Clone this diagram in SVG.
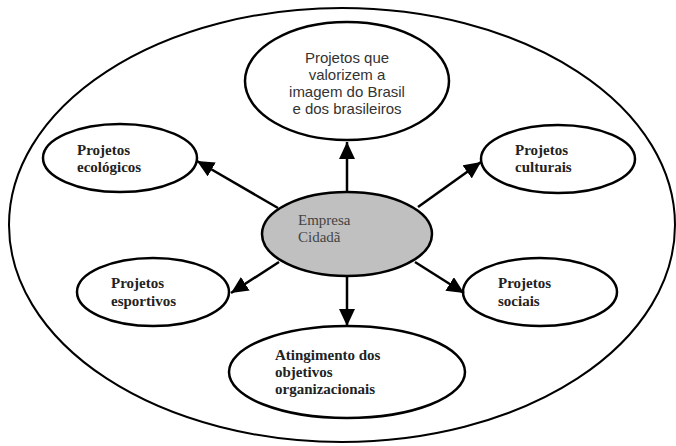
<svg xmlns="http://www.w3.org/2000/svg" width="676" height="446" viewBox="0 0 676 446">
  <style>
    .ell { fill: #ffffff; stroke: #000000; stroke-width: 2.5; }
    .core { fill: #c0c0c0; stroke: #000000; stroke-width: 2.5; }
    .frame { fill: #ffffff; stroke: #000000; stroke-width: 2; }
    .sans { font-family: "Liberation Sans", Arial, sans-serif; font-size: 15px; fill: #333333; text-anchor: middle; }
    .bold { font-family: "Liberation Serif", "Times New Roman", serif; font-size: 15px; font-weight: bold; fill: #222222; }
    .reg { font-family: "Liberation Serif", "Times New Roman", serif; font-size: 15px; fill: #444444; }
    .link { stroke: #000000; stroke-width: 2.5; fill: none; marker-end: url(#head); }
  </style>
  <defs>
    <marker id="head" markerUnits="userSpaceOnUse" markerWidth="18" markerHeight="16" refX="17" refY="8" orient="auto">
      <path d="M0,0 L17,8 L0,16 Z" fill="#000000"/>
    </marker>
  </defs>

  <rect width="676" height="446" fill="#ffffff"/>

  <!-- enclosing boundary -->
  <g id="boundary">
    <ellipse class="frame" cx="342" cy="225" rx="333" ry="217"/>
  </g>

  <g id="node-imagem">
    <ellipse class="ell" cx="347" cy="81" rx="102" ry="59"/>
    <text class="sans" x="347" y="63">Projetos que</text>
    <text class="sans" x="347" y="80">valorizem a</text>
    <text class="sans" x="347" y="97">imagem do Brasil</text>
    <text class="sans" x="347" y="114">e dos brasileiros</text>
  </g>

  <g id="node-ecologicos">
    <ellipse class="ell" cx="120" cy="158" rx="77" ry="34"/>
    <text class="bold" x="77" y="155">Projetos</text>
    <text class="bold" x="77" y="172">ecológicos</text>
  </g>

  <g id="node-culturais">
    <ellipse class="ell" cx="558" cy="159" rx="77" ry="34"/>
    <text class="bold" x="515" y="155">Projetos</text>
    <text class="bold" x="515" y="172">culturais</text>
  </g>

  <g id="node-empresa">
    <ellipse class="core" cx="347" cy="234" rx="85" ry="42"/>
    <text class="reg" x="298" y="225">Empresa</text>
    <text class="reg" x="298" y="242">Cidadã</text>
  </g>

  <g id="node-esportivos">
    <ellipse class="ell" cx="153" cy="292" rx="76" ry="34"/>
    <text class="bold" x="111" y="288">Projetos</text>
    <text class="bold" x="111" y="306">esportivos</text>
  </g>

  <g id="node-sociais">
    <ellipse class="ell" cx="540" cy="292" rx="77" ry="34"/>
    <text class="bold" x="498" y="288">Projetos</text>
    <text class="bold" x="498" y="306">sociais</text>
  </g>

  <g id="node-objetivos">
    <ellipse class="ell" cx="347" cy="372" rx="118" ry="46"/>
    <text class="bold" x="275" y="360">Atingimento dos</text>
    <text class="bold" x="275" y="377">objetivos</text>
    <text class="bold" x="275" y="394">organizacionais</text>
  </g>

  <!-- arrows radiating from the central company -->
  <g id="connectors">
    <line class="link" x1="347" y1="192" x2="347" y2="142"/>
    <line class="link" x1="278" y1="208" x2="197" y2="161"/>
    <line class="link" x1="418" y1="207" x2="481" y2="162"/>
    <line class="link" x1="279" y1="262" x2="231" y2="293"/>
    <line class="link" x1="415" y1="262" x2="464" y2="293"/>
    <line class="link" x1="347" y1="276" x2="347" y2="326"/>
  </g>
</svg>
